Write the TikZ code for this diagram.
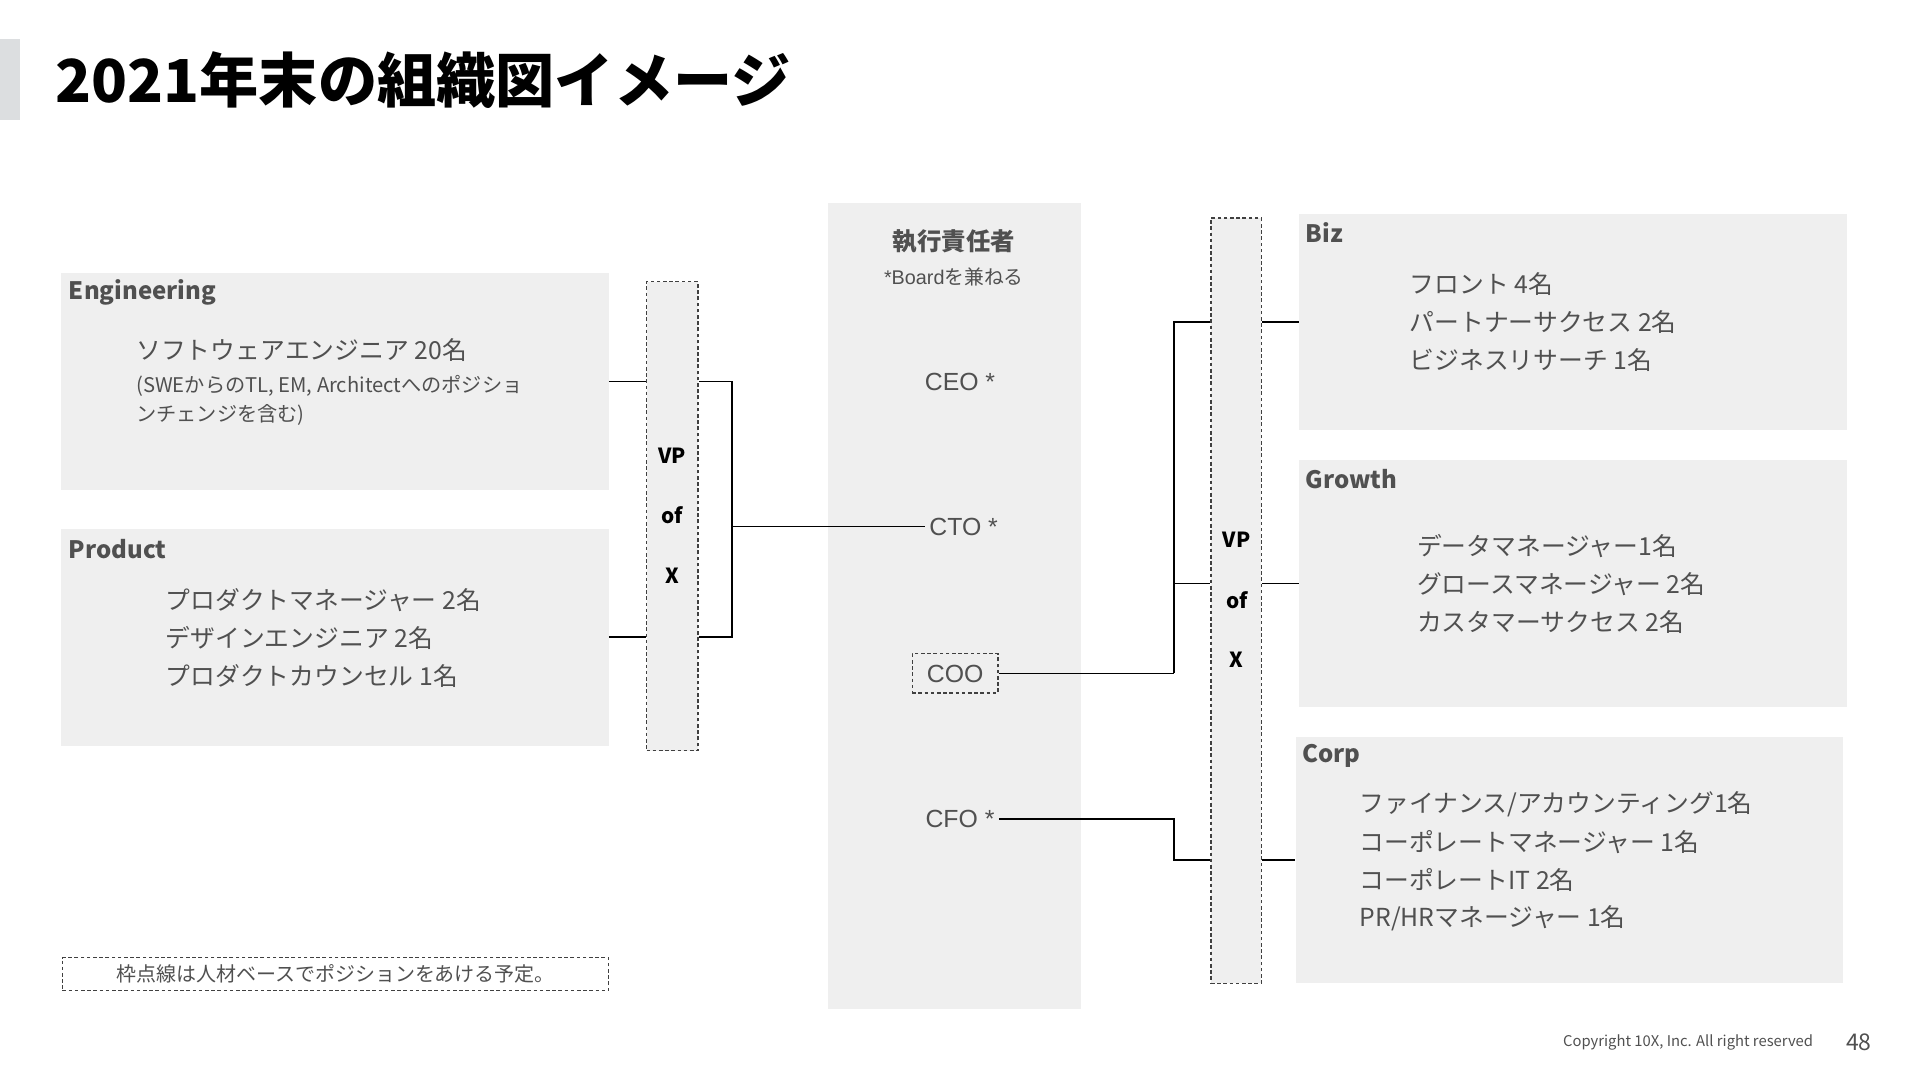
\documentclass[tikz,border=0pt]{standalone}
\usepackage{fontspec}
\setmainfont{Noto Sans CJK JP}
\newfontfamily\arialf{Liberation Sans}
\usetikzlibrary{fit}
\definecolor{boxgrey}{HTML}{EFEFEF}
\definecolor{accent}{HTML}{DCDEE0}
\definecolor{txtgrey}{HTML}{505050}
\definecolor{dashgrey}{HTML}{404040}
\newcommand{\fs}[1]{\fontsize{#1}{#1}\selectfont}
\begin{document}
\begin{tikzpicture}[x=0.6123pt,y=-0.6123pt,
  panel/.style={fill=boxgrey,draw=none,inner sep=0pt},
  dashbox/.style={fill=boxgrey,draw=dashgrey,line width=0.6pt,dash pattern=on 1.8pt off 1.3pt,inner sep=0pt},
  head/.style={anchor=west,inner sep=0pt,text=txtgrey,font=\bfseries\fs{12pt}},
  item/.style={anchor=west,inner sep=0pt,text=txtgrey,font=\fs{12.4pt}},
  small/.style={anchor=west,inner sep=0pt,text=txtgrey,font=\fs{10.1pt}},
  vp/.style={inner sep=0pt,text=black,font=\bfseries\fs{10.4pt}},
  role/.style={inner sep=2pt,text=txtgrey,font=\arialf\fs{12.4pt}},
  conn/.style={draw=black,line width=0.9pt}]
\useasboundingbox (0,0) rectangle (1568,882);

% title
\node[fit={(0,32) (16,98)},fill=accent,inner sep=0pt] (bar) {};
\node[anchor=base west,inner sep=0pt,font=\bfseries\fs{29.6pt}] (title) at (45,84) {2021年末の組織図イメージ};

% left panels
\node[panel,fit={(50,223) (497,400)}] (eng) {};
\node[head] (engh) at (56,239) {Engineering};
\node[item] (eng1) at (111,286) {ソフトウェアエンジニア 20名};
\node[small] (eng2) at (111,315) {(SWEからのTL, EM, Architectへのポジショ};
\node[small] (eng3) at (111,339) {ンチェンジを含む)};

\node[panel,fit={(50,432) (497,609)}] (prod) {};
\node[head] (prodh) at (56,448) {Product};
\node[item] (prod1) at (135,490) {プロダクトマネージャー 2名};
\node[item] (prod2) at (135,521) {デザインエンジニア 2名};
\node[item] (prod3) at (135,552) {プロダクトカウンセル 1名};

% left VP box
\node[dashbox,fit={(528,230) (570,613)}] (vpl) {};
\node[vp] (vpl1) at (549,372) {VP};
\node[vp] (vpl2) at (549,421) {of};
\node[vp] (vpl3) at (549,470) {X};

% center column
\node[panel,fit={(676,166) (883,824)}] (exec) {};
\node[inner sep=0pt,text=txtgrey,font=\bfseries\fs{12.2pt}] (exech) at (779,197) {執行責任者};
\node[inner sep=0pt,text=txtgrey,font=\fs{9.9pt}] (execs) at (779,226) {{\arialf *Board}を兼ねる};
\node[role] (ceo) at (784,312) {CEO *};
\node[role] (cto) at (787,430) {CTO *};
\node[role,draw=dashgrey,line width=0.6pt,dash pattern=on 1.8pt off 1.3pt,minimum width=42.9pt,minimum height=19.6pt] (coo) at (780,550) {COO};
\node[role] (cfo) at (784,669) {CFO *};

% right VP box
\node[dashbox,fit={(989,178) (1030,803)}] (vpr) {};
\node[vp] (vpr1) at (1010,441) {VP};
\node[vp] (vpr2) at (1010,490) {of};
\node[vp] (vpr3) at (1010,539) {X};

% right panels
\node[panel,fit={(1061,175) (1508,351)}] (biz) {};
\node[head] (bizh) at (1066,190) {Biz};
\node[item] (biz1) at (1151,232) {フロント 4名};
\node[item] (biz2) at (1151,263) {パートナーサクセス 2名};
\node[item] (biz3) at (1151,294) {ビジネスリサーチ 1名};

\node[panel,fit={(1061,376) (1508,577)}] (gro) {};
\node[head] (groh) at (1066,391) {Growth};
\node[item] (gro1) at (1157,446) {データマネージャー1名};
\node[item] (gro2) at (1157,477) {グロースマネージャー 2名};
\node[item] (gro3) at (1157,508) {カスタマーサクセス 2名};

\node[panel,fit={(1058,602) (1505,803)}] (corp) {};
\node[head] (corph) at (1063,617) {Corp};
\node[item] (corp1) at (1110,657) {ファイナンス/アカウンティング1名};
\node[item] (corp2) at (1110,688) {コーポレートマネージャー 1名};
\node[item] (corp3) at (1110,719) {コーポレートIT 2名};
\node[item] (corp4) at (1110,750) {PR/HRマネージャー 1名};

% note
\node[draw=dashgrey,line width=0.6pt,dash pattern=on 1.8pt off 1.3pt,fit={(51,782) (497,809)},inner sep=0pt] (note) {};
\node[inner sep=0pt,text=txtgrey,font=\fs{10pt}] (notet) at (note.center) {枠点線は人材ベースでポジションをあける予定。};

% footer
\node[anchor=east,inner sep=0pt,text=txtgrey,font=\fs{7.4pt}] (copy) at (1481,851) {Copyright 10X, Inc. All right reserved};
\node[inner sep=0pt,text=txtgrey,font=\fs{11.5pt}] (page) at (1518,851) {48};

% connectors
\coordinate (jl) at (598,430);
\coordinate (jr) at (959,550);
\draw[conn] (eng.east) -- (vpl.west |- eng.east);
\draw[conn] (prod.east) -- (vpl.west |- prod.east);
\draw[conn] (vpl.east |- eng.east) -| (jl);
\draw[conn] (vpl.east |- prod.east) -| (jl);
\draw[conn] (jl) -- (cto.west);
\draw[conn] (coo.east) -- (jr);
\draw[conn] (jr) |- (vpr.west |- biz.west);
\draw[conn] (jr |- gro.west) -- (vpr.west |- gro.west);
\draw[conn] (cfo.east) -- (cfo.east -| jr) |- (vpr.west |- corp.west);
\draw[conn] (vpr.east |- biz.west) -- (biz.west);
\draw[conn] (vpr.east |- gro.west) -- (gro.west);
\draw[conn] (vpr.east |- corp.west) -- (corp.west);
\end{tikzpicture}
\end{document}
